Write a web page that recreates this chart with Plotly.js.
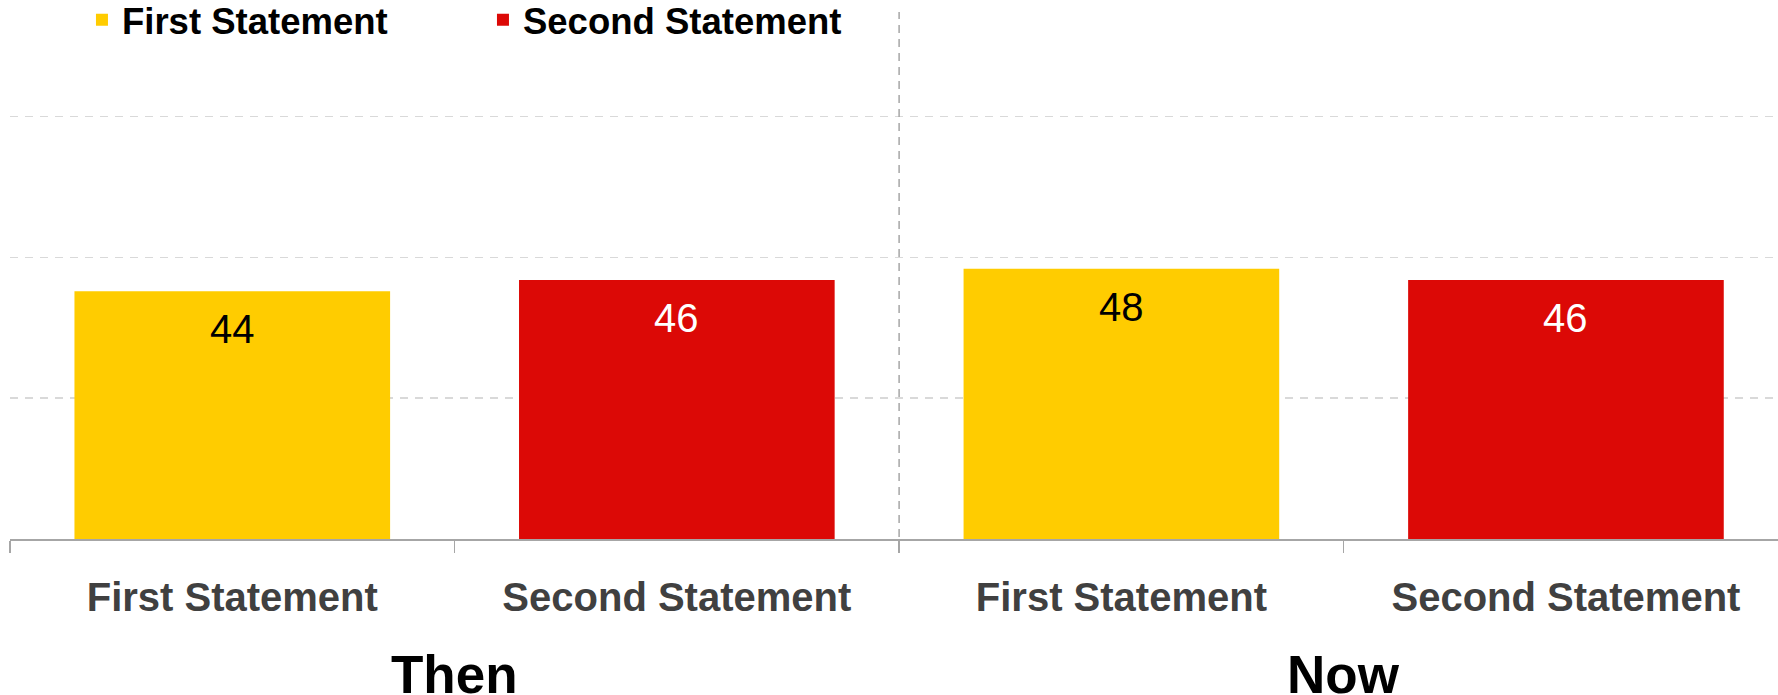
<!DOCTYPE html>
<html><head><meta charset="utf-8">
<script src="https://cdn.plot.ly/plotly-3.0.1.min.js"></script>
<style>html,body{margin:0;padding:0;background:#fff;} #chart{width:1778px;height:695px;}</style>
</head><body><div id="chart"></div>
<script>
const periods = ["Then", "Now"];
const statements = ["First Statement", "Second Statement"];
const firstValues = [44, 48];
const secondValues = [46, 46];
const seriesColors = ["#FFCC00", "#DC0906"];
const labelColors = ["#000000", "#FFFFFF"];
const gridValues = [25, 50, 75];

const FONT = "Liberation Sans, Arial, Helvetica, sans-serif";
const key = (p, s) => p + " \u00b7 " + s;
const categories = [];
const tickText = [];
periods.forEach(p => statements.forEach(s => { categories.push(key(p, s)); tickText.push(s); }));

const seriesValues = [firstValues, secondValues];
const traces = statements.map((s, k) => ({
  type: "bar",
  name: s,
  x: periods.map(p => key(p, s)),
  y: seriesValues[k],
  width: 0.71,
  marker: {color: seriesColors[k], line: {width: 0}},
  hoverinfo: "skip"
}));

const annotations = [];
statements.forEach((s, k) => periods.forEach((p, i) => annotations.push({
  x: key(p, s), y: seriesValues[k][i], xref: "x", yref: "y",
  text: String(seriesValues[k][i]), showarrow: false, yanchor: "top", yshift: -14,
  font: {family: FONT, size: 40, color: labelColors[k]}
})));
periods.forEach((p, i) => annotations.push({
  x: i * statements.length + (statements.length - 1) / 2, xref: "x",
  y: -0.2562, yref: "paper", yanchor: "middle",
  text: p, showarrow: false,
  font: {family: FONT, size: 53, color: "#000000", weight: "bold"}
}));

const shapes = [{
  type: "line", xref: "x", yref: "paper",
  x0: statements.length - 0.5, x1: statements.length - 0.5, y0: -0.0228, y1: 1,
  line: {color: "#a6a6a6", width: 1.5, dash: "8px,6px"}
}];

const layout = {
  width: 1778, height: 695,
  margin: {l: 10, r: 0, t: 12, b: 156, pad: 0, autoexpand: false},
  paper_bgcolor: "#ffffff", plot_bgcolor: "#ffffff",
  barmode: "overlay",
  showlegend: true,
  legend: {
    orientation: "h", xref: "container", yref: "container",
    x: 0.0461, y: 0.9712, xanchor: "left", yanchor: "middle",
    font: {family: FONT, size: 36.5, color: "#000000", weight: "bold"},
    entrywidth: 356, bgcolor: "rgba(0,0,0,0)", traceorder: "normal",
    itemclick: false, itemdoubleclick: false
  },
  xaxis: {
    type: "category", categoryorder: "array", categoryarray: categories,
    tickmode: "array", tickvals: categories, ticktext: tickText,
    range: [-0.5, 3.477], tickson: "boundaries",
    ticks: "outside", ticklen: 12, tickwidth: 1.5, tickcolor: "#a6a6a6",
    showline: true, linecolor: "#a6a6a6", linewidth: 2,
    showgrid: false, zeroline: false,
    tickfont: {family: FONT, size: 40, color: "#404040", weight: "bold"},
    ticklabelstandoff: 22, automargin: false, fixedrange: true
  },
  yaxis: {
    range: [0, 93.6], tickmode: "array", tickvals: gridValues,
    showticklabels: false, ticks: "",
    showgrid: true, gridcolor: "#d9d9d9", gridwidth: 1.5, griddash: "8px,7px",
    zeroline: false, showline: false, automargin: false, fixedrange: true
  },
  annotations: annotations,
  shapes: shapes
};

Plotly.newPlot("chart", traces, layout, {staticPlot: true, displayModeBar: false});
</script>
</body></html>
